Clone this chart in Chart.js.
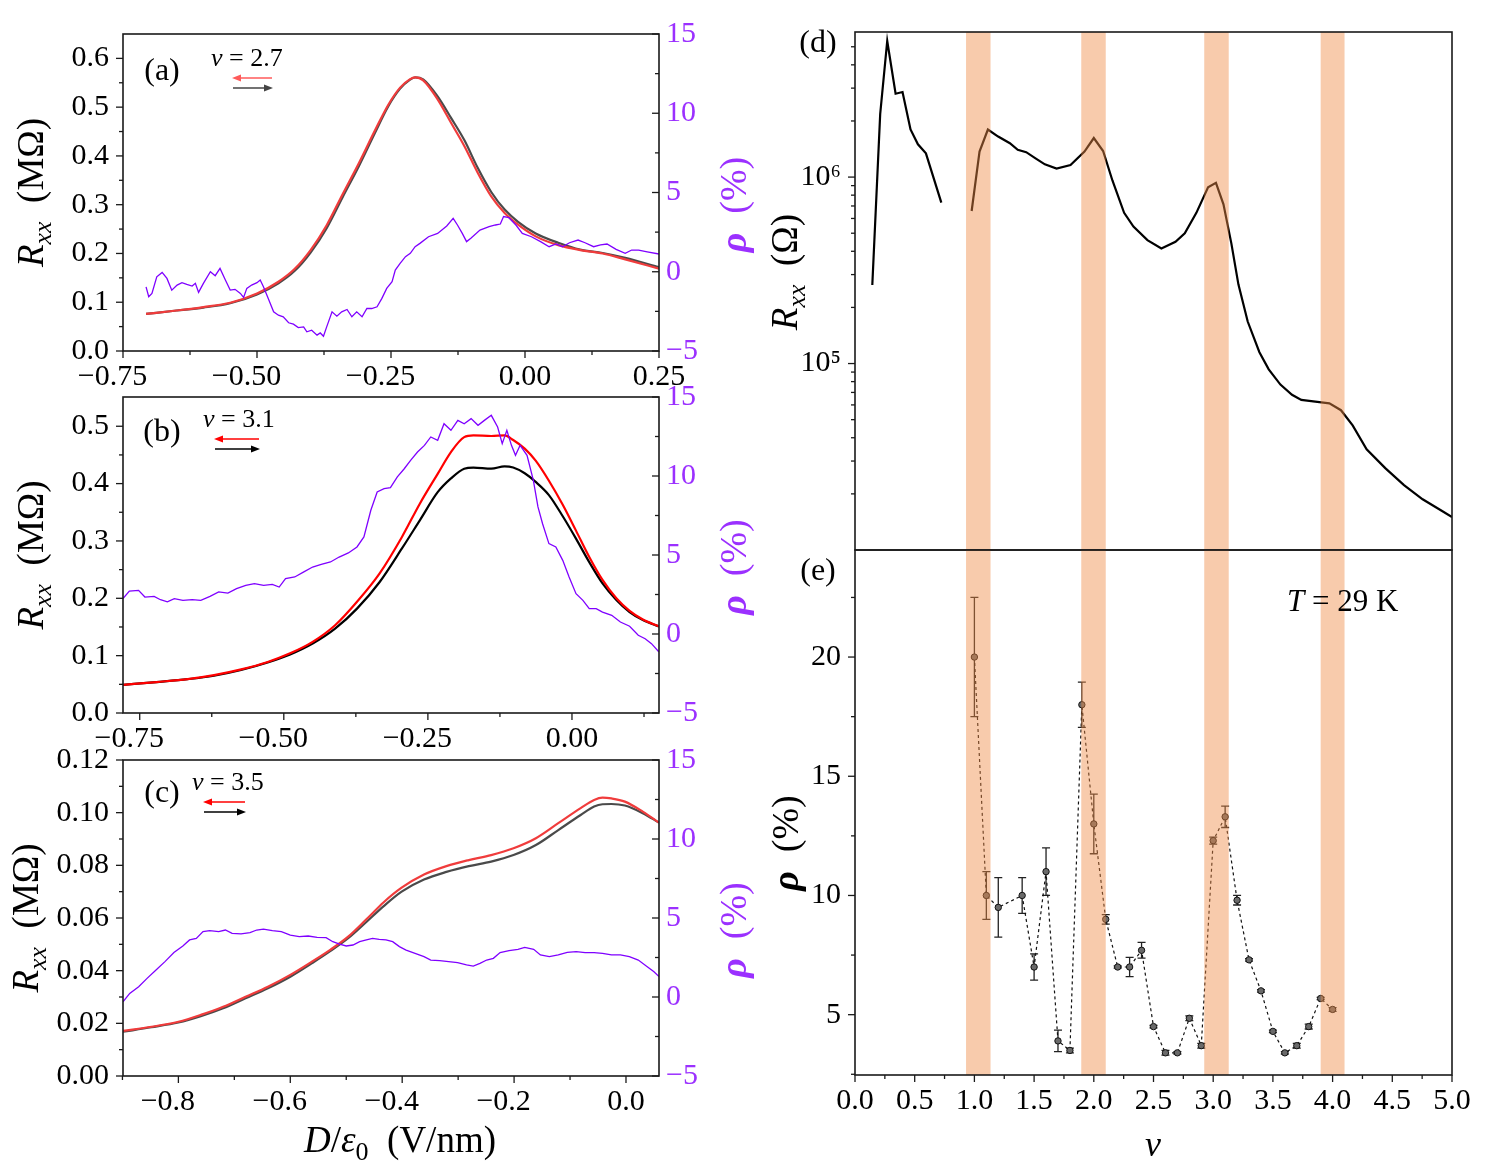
<!DOCTYPE html>
<html>
<head>
<meta charset="utf-8">
<script src="https://cdn.jsdelivr.net/npm/chart.js@4.4.0/dist/chart.umd.min.js"></script>
<style>
  body { margin: 0; background: #fff; }
  #wrap { position: relative; width: 1492px; height: 1172px; }
  canvas { position: absolute; left: 0; top: 0; }
</style>
</head>
<body>
<div id="wrap">
  <canvas id="ca" width="1492" height="1172"></canvas>
  <canvas id="cb" width="1492" height="1172"></canvas>
  <canvas id="cc" width="1492" height="1172"></canvas>
  <canvas id="cd" width="1492" height="1172"></canvas>
  <canvas id="ce" width="1492" height="1172"></canvas>
</div>
<script>
/** Data start */

// (a) v = 2.7
const aX = [-0.707,-0.65,-0.60,-0.55,-0.50,-0.46,-0.43,-0.40,-0.37,-0.34,-0.31,-0.28,-0.255,-0.233,-0.215,-0.205,-0.19,-0.163,-0.138,-0.113,-0.088,-0.063,-0.038,-0.013,0.020,0.062,0.103,0.145,0.187,0.25];
const aRed = [0.076,0.083,0.090,0.099,0.118,0.142,0.168,0.207,0.258,0.322,0.385,0.452,0.505,0.540,0.557,0.561,0.555,0.516,0.468,0.420,0.365,0.317,0.283,0.259,0.235,0.217,0.207,0.200,0.188,0.169];
const aBlack = [0.076,0.083,0.089,0.098,0.116,0.139,0.164,0.202,0.252,0.316,0.379,0.447,0.502,0.538,0.556,0.561,0.557,0.522,0.478,0.432,0.375,0.326,0.290,0.265,0.241,0.222,0.208,0.201,0.191,0.172];
const aRhoX = [-0.707,-0.702,-0.696,-0.687,-0.677,-0.668,-0.659,-0.649,-0.640,-0.631,-0.621,-0.615,-0.609,-0.600,-0.587,-0.578,-0.569,-0.559,-0.550,-0.541,-0.531,-0.525,-0.519,-0.510,-0.500,-0.494,-0.488,-0.479,-0.469,-0.460,-0.451,-0.441,-0.432,-0.423,-0.413,-0.407,-0.398,-0.388,-0.382,-0.376,-0.370,-0.360,-0.351,-0.342,-0.332,-0.323,-0.314,-0.304,-0.295,-0.286,-0.276,-0.267,-0.258,-0.248,-0.242,-0.233,-0.223,-0.214,-0.205,-0.196,-0.180,-0.163,-0.146,-0.134,-0.126,-0.117,-0.109,-0.101,-0.084,-0.067,-0.055,-0.046,-0.040,-0.030,-0.017,-0.005,0.012,0.029,0.045,0.058,0.070,0.083,0.099,0.112,0.128,0.141,0.153,0.170,0.187,0.199,0.212,0.228,0.25];
const aRho = [-0.95,-1.58,-1.37,-0.32,-0.04,-0.42,-1.16,-0.84,-0.69,-0.80,-0.90,-0.73,-1.30,-0.73,0.0,-0.25,0.21,-0.52,-1.16,-1.11,-1.37,-1.62,-1.05,-0.84,-0.69,-0.52,-0.95,-1.68,-2.53,-2.74,-2.84,-3.22,-3.31,-3.52,-3.48,-3.79,-3.69,-4.00,-3.86,-4.07,-3.48,-2.53,-2.80,-2.53,-2.38,-2.84,-2.53,-2.84,-2.32,-2.32,-2.21,-1.68,-1.05,-0.63,0.11,0.53,0.95,1.16,1.58,1.79,2.21,2.42,2.89,3.37,2.95,2.42,1.90,2.11,2.63,2.85,2.95,3.01,3.48,3.41,2.95,2.42,2.21,1.90,1.58,1.75,1.58,1.83,2.00,1.83,1.58,1.69,1.75,1.41,1.16,1.37,1.37,1.26,1.12];

// (b) v = 3.1
const bX = [-0.779,-0.721,-0.667,-0.621,-0.574,-0.528,-0.489,-0.450,-0.411,-0.373,-0.334,-0.295,-0.264,-0.233,-0.210,-0.187,-0.171,-0.140,-0.117,-0.102,-0.082,-0.063,-0.040,-0.016,0.007,0.030,0.053,0.077,0.100,0.123,0.151];
const bRed = [0.049,0.054,0.059,0.066,0.076,0.089,0.104,0.124,0.153,0.194,0.243,0.307,0.365,0.417,0.455,0.481,0.484,0.483,0.484,0.476,0.461,0.440,0.405,0.363,0.318,0.272,0.232,0.200,0.178,0.163,0.151];
const bBlack = [0.049,0.054,0.059,0.065,0.075,0.088,0.102,0.121,0.147,0.182,0.228,0.287,0.336,0.385,0.409,0.426,0.428,0.426,0.430,0.428,0.418,0.403,0.380,0.343,0.304,0.263,0.226,0.197,0.176,0.162,0.151];
const bRhoX = [-0.779,-0.768,-0.752,-0.741,-0.725,-0.714,-0.702,-0.690,-0.675,-0.659,-0.644,-0.628,-0.613,-0.597,-0.582,-0.566,-0.551,-0.535,-0.520,-0.508,-0.497,-0.481,-0.466,-0.450,-0.435,-0.419,-0.404,-0.388,-0.373,-0.361,-0.349,-0.338,-0.326,-0.315,-0.303,-0.291,-0.280,-0.268,-0.256,-0.245,-0.233,-0.222,-0.210,-0.198,-0.187,-0.175,-0.163,-0.152,-0.140,-0.129,-0.121,-0.113,-0.105,-0.098,-0.090,-0.078,-0.067,-0.059,-0.051,-0.040,-0.028,-0.016,-0.005,0.007,0.019,0.030,0.042,0.053,0.069,0.084,0.100,0.115,0.127,0.138,0.151];
const bRho = [2.24,2.72,2.76,2.34,2.38,2.17,2.03,2.24,2.13,2.17,2.13,2.38,2.66,2.59,2.87,3.08,3.19,3.08,3.14,2.97,3.50,3.61,3.92,4.24,4.41,4.56,4.87,5.13,5.51,6.14,7.83,8.99,9.20,9.26,9.94,10.46,10.99,11.52,11.94,12.47,12.26,13.31,12.89,13.52,13.31,13.63,13.21,13.52,13.84,13.10,12.05,12.89,11.94,11.31,11.94,11.31,9.73,8.04,6.98,5.72,5.51,4.66,3.61,2.55,2.13,1.60,1.60,1.39,1.18,0.76,0.49,-0.08,-0.30,-0.61,-1.14];

// (c) v = 3.5
const cX = [-0.899,-0.848,-0.800,-0.760,-0.720,-0.680,-0.640,-0.600,-0.560,-0.528,-0.496,-0.464,-0.433,-0.401,-0.361,-0.321,-0.281,-0.241,-0.201,-0.161,-0.121,-0.081,-0.057,-0.042,-0.026,-0.002,0.030,0.059];
const cRed = [0.0171,0.0187,0.0206,0.0232,0.0263,0.0301,0.0339,0.0384,0.0436,0.0480,0.0530,0.0595,0.0660,0.0715,0.0765,0.0797,0.0820,0.0839,0.0865,0.0903,0.0960,0.1017,0.1048,0.1057,0.1054,0.1042,0.1004,0.0962];
const cBlack = [0.0168,0.0185,0.0203,0.0227,0.0257,0.0295,0.0333,0.0377,0.0430,0.0475,0.0524,0.0585,0.0645,0.0700,0.0746,0.0775,0.0797,0.0814,0.0839,0.0877,0.0934,0.0991,0.1023,0.1032,0.1033,0.1027,0.0998,0.0962];
const cRhoX = [-0.899,-0.887,-0.871,-0.856,-0.840,-0.824,-0.808,-0.792,-0.780,-0.768,-0.756,-0.744,-0.728,-0.716,-0.704,-0.688,-0.672,-0.660,-0.648,-0.632,-0.616,-0.600,-0.584,-0.568,-0.552,-0.536,-0.524,-0.512,-0.500,-0.488,-0.476,-0.464,-0.453,-0.441,-0.429,-0.417,-0.405,-0.393,-0.377,-0.361,-0.349,-0.333,-0.317,-0.301,-0.285,-0.273,-0.261,-0.249,-0.237,-0.225,-0.209,-0.193,-0.181,-0.165,-0.153,-0.137,-0.121,-0.105,-0.089,-0.073,-0.057,-0.042,-0.026,-0.010,0.006,0.022,0.038,0.050,0.059];
const cRho = [-0.30,0.23,0.65,1.18,1.71,2.24,2.81,3.23,3.61,3.71,4.14,4.20,4.14,4.24,4.03,3.99,4.07,4.24,4.30,4.20,4.14,3.92,3.82,3.86,3.78,3.76,3.50,3.35,3.23,3.29,3.50,3.61,3.71,3.65,3.61,3.50,3.19,2.97,2.76,2.55,2.34,2.30,2.24,2.17,2.03,1.96,2.13,2.34,2.45,2.81,2.93,3.02,3.14,3.02,2.66,2.55,2.66,2.83,2.87,2.81,2.81,2.76,2.66,2.66,2.55,2.34,1.92,1.60,1.29];

// (d) Rxx vs filling, log scale (null = gap)
const dX = [0.145,0.211,0.270,0.340,0.398,0.465,0.527,0.594,0.723,0.85,0.977,1.043,1.113,1.199,1.297,1.363,1.434,1.512,1.590,1.688,1.805,1.922,2.000,2.078,2.156,2.254,2.332,2.449,2.566,2.684,2.762,2.859,2.957,3.023,3.086,3.152,3.211,3.289,3.387,3.465,3.563,3.660,3.738,3.855,3.973,4.070,4.168,4.285,4.441,4.598,4.754,4.910,5.000];
const dR = [2.64e5,2.18e6,5.37e6,2.80e6,2.86e6,1.80e6,1.50e6,1.34e6,7.29e5,null,6.58e5,1.37e6,1.80e6,1.65e6,1.52e6,1.40e6,1.36e6,1.26e6,1.17e6,1.11e6,1.16e6,1.37e6,1.62e6,1.38e6,9.59e5,6.43e5,5.43e5,4.59e5,4.14e5,4.50e5,5.00e5,6.43e5,8.81e5,9.31e5,7.14e5,4.41e5,2.66e5,1.68e5,1.15e5,9.31e4,7.71e4,6.80e4,6.38e4,6.25e4,6.12e4,5.62e4,4.66e4,3.47e4,2.75e4,2.23e4,1.87e4,1.63e4,1.50e4];

// (e) rho vs filling, with error bars
const eX = [1.0,1.1,1.2,1.4,1.5,1.6,1.7,1.8,1.9,2.0,2.1,2.2,2.3,2.4,2.5,2.6,2.7,2.8,2.9,3.0,3.1,3.2,3.3,3.4,3.5,3.6,3.7,3.8,3.9,4.0];
const eRho = [20.0,10.0,9.5,10.0,7.0,11.0,3.9,3.5,18.0,13.0,9.0,7.0,7.0,7.7,4.5,3.4,3.4,4.85,3.7,12.3,13.3,9.8,7.3,6.0,4.3,3.4,3.7,4.5,5.68,5.22];
const eErr = [2.5,1.0,1.25,0.75,0.55,1.0,0.45,0.1,0.95,1.25,0.2,0.05,0.4,0.33,0.05,0.1,0.05,0.1,0.1,0.15,0.45,0.2,0.05,0.05,0.05,0.05,0.1,0.1,0.05,0.08];

// shaded integer-filling bands
const bandLo = [0.93, 1.895, 2.925, 3.9];
const bandHi = [1.135, 2.1, 3.13, 4.1];

// tick labels
const aXTicks = [-0.75, -0.5, -0.25, 0, 0.25];
const bXTicks = [-0.75, -0.5, -0.25, 0];
const cXTicks = [-0.8, -0.6, -0.4, -0.2, 0];
const aYTicks = [0, 0.1, 0.2, 0.3, 0.4, 0.5, 0.6];
const bYTicks = [0, 0.1, 0.2, 0.3, 0.4, 0.5];
const cYTicks = [0, 0.02, 0.04, 0.06, 0.08, 0.10, 0.12];
const rhoTicks = [-5, 0, 5, 10, 15];
const dYTicks = [1e5, 1e6];
const eXTicks = [0, 0.5, 1, 1.5, 2, 2.5, 3, 3.5, 4, 4.5, 5];
const eYTicks = [5, 10, 15, 20];

/** Data end */

const FONT = '"Liberation Serif", "Times New Roman", serif';
const PURPLE = '#7f00ff';
const PURPLE_TXT = '#9b30ff';
const BAND = 'rgba(240,140,70,0.45)';
const FRAME = '#1a1a1a';
const W = 1492, H = 1172, WL = 110, WR = 50, HB = 50;
const TITLE = 37, RHO_PX = 38;

Chart.defaults.font.family = FONT;
Chart.defaults.font.size = 30;
Chart.defaults.color = '#000';
Chart.defaults.animation = false;
Chart.defaults.responsive = false;
Chart.defaults.events = [];
Chart.defaults.plugins.legend.display = false;
Chart.defaults.plugins.tooltip.enabled = false;

function range(lo, hi, step) {
  const out = [];
  for (let v = lo; v <= hi + 1e-9; v += step) out.push(+v.toFixed(6));
  return out;
}

function num(v, dec) {
  return (Math.abs(v) < 1e-9 ? 0 : v).toFixed(dec).replace('-', '\u2212');
}
// minus sign hangs left of the tick in the original, so pad on the right
function xfmt(v, dec) {
  return v < -1e-9 ? num(v, dec) + '\u2002\u2009' : num(v, dec);
}

function padFor(area, right, bottom) {
  return {
    left: area.l - WL, top: area.t,
    right: W - area.r - (right ? WR : 0),
    bottom: H - area.b - (bottom ? HB : 0)
  };
}

function pts(xs, ys) {
  return xs.map((x, i) => ({ x: x, y: ys[i] }));
}

function line(xs, ys, color, width, axis, extra) {
  return Object.assign({
    data: pts(xs, ys), borderColor: color, borderWidth: width,
    pointRadius: 0, yAxisID: axis, fill: false, tension: 0
  }, extra || {});
}

function xAxis(min, max, ticks, dec, show) {
  const on = show !== false;
  return {
    type: 'linear', min: min, max: max, display: on,
    grid: { display: false, drawTicks: false }, border: { display: false },
    afterBuildTicks: s => { s.ticks = ticks.map(v => ({ value: v })); },
    afterFit: s => { s.height = on ? HB : 0; },
    ticks: { padding: 8, maxRotation: 0, autoSkip: false, callback: v => xfmt(v, dec) }
  };
}

function yAxis(pos, min, max, ticks, dec, color) {
  return {
    type: 'linear', position: pos, min: min, max: max,
    grid: { display: false, drawTicks: false }, border: { display: false },
    afterBuildTicks: s => { s.ticks = ticks.map(v => ({ value: v })); },
    afterFit: s => { s.width = pos === 'left' ? WL : WR; },
    ticks: { padding: pos === 'left' ? 14 : 7, color: color || '#000', autoSkip: false, callback: v => num(v, dec) }
  };
}

// text with italic / bold / subscript runs
function rich(ctx, parts, x, y, size, o) {
  o = o || {};
  const font = f => (f.includes('i') ? 'italic ' : '') + (f.includes('b') ? 'bold ' : '') +
    (f.includes('s') ? Math.round(size * 0.7) : size) + 'px ' + FONT;
  ctx.save();
  ctx.translate(x, y);
  if (o.rot) ctx.rotate(o.rot);
  ctx.fillStyle = o.color || '#000';
  ctx.textBaseline = 'alphabetic';
  let w = 0;
  parts.forEach(p => { ctx.font = font(p[1] || ''); w += ctx.measureText(p[0]).width; });
  let cx = o.left ? 0 : -w / 2;
  parts.forEach(p => {
    const f = p[1] || '';
    ctx.font = font(f);
    ctx.fillText(p[0], cx, f.includes('s') ? size * 0.22 : 0);
    cx += ctx.measureText(p[0]).width;
  });
  ctx.restore();
}

function arrow(ctx, x0, x1, y, color) {
  const dir = Math.sign(x1 - x0);
  ctx.save();
  ctx.strokeStyle = color; ctx.fillStyle = color; ctx.lineWidth = 1.6;
  ctx.beginPath(); ctx.moveTo(x0, y); ctx.lineTo(x1 - dir * 6, y); ctx.stroke();
  ctx.beginPath(); ctx.moveTo(x1, y); ctx.lineTo(x1 - dir * 9, y - 3.5); ctx.lineTo(x1 - dir * 9, y + 3.5);
  ctx.closePath(); ctx.fill();
  ctx.restore();
}

// major ticks from the scale, minor ticks from lists; left/bottom out, right in
function drawTicks(chart, minor) {
  const ctx = chart.ctx, a = chart.chartArea;
  ctx.save();
  ctx.strokeStyle = FRAME; ctx.lineWidth = 1.3;
  Object.keys(minor).forEach(id => {
    const sc = chart.scales[id];
    const mark = (vals, len) => vals.forEach(v => {
      const p = sc.getPixelForValue(v);
      ctx.beginPath();
      if (sc.isHorizontal()) { ctx.moveTo(p, a.bottom); ctx.lineTo(p, a.bottom + len); }
      else if (sc.position === 'left') { ctx.moveTo(a.left, p); ctx.lineTo(a.left - len, p); }
      else { ctx.moveTo(a.right, p); ctx.lineTo(a.right - len, p); }
      ctx.stroke();
    });
    mark(sc.ticks.map(t => t.value), 7);
    mark(minor[id], 4);
  });
  ctx.restore();
}

function deco(o) {
  return {
    id: 'deco',
    beforeDatasetsDraw(chart) { if (o.errors) o.errors(chart); },
    afterDatasetsDraw(chart) {
      const ctx = chart.ctx, a = chart.chartArea;
      if (o.bands) {
        const sx = chart.scales.x;
        ctx.save();
        ctx.fillStyle = BAND;
        bandLo.forEach((lo, i) => {
          const x0 = sx.getPixelForValue(lo), x1 = sx.getPixelForValue(bandHi[i]);
          ctx.fillRect(x0, a.top, x1 - x0, a.bottom - a.top);
        });
        ctx.restore();
      }
      drawTicks(chart, o.minor);
      ctx.save();
      ctx.strokeStyle = FRAME; ctx.lineWidth = 1.6;
      ctx.strokeRect(a.left, a.top, a.right - a.left, a.bottom - a.top);
      ctx.restore();
      if (o.text) o.text(ctx);
    }
  };
}

const rhoMinor = [-2.5, 2.5, 7.5, 12.5];
const RXX = [['R', 'i'], ['xx', 'is'], ['  (M\u03a9)']];
const RHO = [['\u03c1', 'bi'], ['  (%)']];
const ROT = -Math.PI / 2;

function leftPanel(id, area, p) {
  return new Chart(document.getElementById(id), {
    type: 'line',
    data: {
      datasets: [
        line(p.rhoX, p.rho, PURPLE, 1.3, 'y1'),
        line(p.x, p.red, p.redColor, 2.2, 'y', { cubicInterpolationMode: 'monotone' }),
        line(p.x, p.black, p.blackColor, 2.2, 'y', { cubicInterpolationMode: 'monotone' })
      ]
    },
    options: {
      layout: { padding: padFor(area, true, true) },
      scales: {
        x: xAxis(p.xMin, p.xMax, p.xTicks, p.xDec),
        y: yAxis('left', 0, p.yMax, p.yTicks, p.yDec),
        y1: yAxis('right', -5, 15, rhoTicks, 0, PURPLE_TXT)
      }
    },
    plugins: [deco({
      minor: { x: p.xMinor, y: p.yMinor, y1: rhoMinor },
      text: ctx => {
        const cy = (area.t + area.b) / 2;
        rich(ctx, [[p.tag]], area.l + 39, p.tagY, 32);
        rich(ctx, [['v', 'i'], [' = ' + p.nu]], p.lx, p.ly, 26, { left: true });
        arrow(ctx, p.ax1, p.ax0, p.ly + 12, p.arrowRed);
        arrow(ctx, p.ax0 + 1, p.ax1 + 1, p.ly + 22, p.arrowBlack);
        rich(ctx, RXX, p.titleX, cy, TITLE, { rot: ROT });
        rich(ctx, RHO, 746, cy + 12, RHO_PX, { rot: ROT, color: PURPLE_TXT });
        if (p.xTitle) rich(ctx, [['D', 'i'], ['/'], ['\u03b5', 'i'], ['0', 's'], ['  (V/nm)']], 400, 1152, TITLE);
      }
    })]
  });
}

leftPanel('ca', { l: 123, t: 34, r: 659, b: 351 }, {
  x: aX, red: aRed, black: aBlack, rhoX: aRhoX, rho: aRho,
  redColor: '#f03c3c', blackColor: '#4a4a4a',
  xMin: -0.75, xMax: 0.25, xTicks: aXTicks, xDec: 2, xMinor: [-0.625, -0.375, -0.125, 0.125],
  yMax: 0.65, yTicks: aYTicks, yDec: 1, yMinor: range(0.05, 0.55, 0.1),
  tag: '(a)', tagY: 80, nu: '2.7', lx: 211, ly: 66, ax0: 232, ax1: 272,
  arrowRed: '#ff5a5a', arrowBlack: '#444', titleX: 43
});

leftPanel('cb', { l: 123, t: 397, r: 659, b: 713 }, {
  x: bX, red: bRed, black: bBlack, rhoX: bRhoX, rho: bRho,
  redColor: '#ff0000', blackColor: '#000000',
  xMin: -0.779, xMax: 0.151, xTicks: bXTicks, xDec: 2, xMinor: [-0.625, -0.375, -0.125, 0.125],
  yMax: 0.551, yTicks: bYTicks, yDec: 1, yMinor: range(0.05, 0.45, 0.1),
  tag: '(b)', tagY: 441, nu: '3.1', lx: 203, ly: 427, ax0: 214, ax1: 259,
  arrowRed: '#ff0000', arrowBlack: '#000', titleX: 43
});

leftPanel('cc', { l: 123, t: 760, r: 659, b: 1076 }, {
  x: cX, red: cRed, black: cBlack, rhoX: cRhoX, rho: cRho,
  redColor: '#f03c3c', blackColor: '#4a4a4a',
  xMin: -0.899, xMax: 0.059, xTicks: cXTicks, xDec: 1, xMinor: [-0.9, -0.7, -0.5, -0.3, -0.1],
  yMax: 0.12, yTicks: cYTicks, yDec: 2, yMinor: range(0.01, 0.11, 0.02),
  tag: '(c)', tagY: 802, nu: '3.5', lx: 192, ly: 790, ax0: 203, ax1: 245,
  arrowRed: '#ff0000', arrowBlack: '#000', titleX: 38, xTitle: true
});

// (d) log-scale resistance
const sup = { 4: '\u2074', 5: '\u2075', 6: '\u2076' };
const dArea = { l: 855, t: 26, r: 1452, b: 550 };
new Chart(document.getElementById('cd'), {
  type: 'line',
  data: {
    datasets: [line(dX, dR, '#000', 2.2, 'y', { spanGaps: false })]
  },
  options: {
    layout: { padding: padFor(dArea, false, false) },
    scales: {
      x: xAxis(0, 5, eXTicks, 1, false),
      y: {
        type: 'logarithmic', position: 'left', min: 1e4, max: 6e6,
        grid: { display: false, drawTicks: false }, border: { display: false },
        afterBuildTicks: s => { s.ticks = dYTicks.map(v => ({ value: v })); },
        afterFit: s => { s.width = WL; },
        ticks: { padding: 14, autoSkip: false, callback: v => '10' + sup[Math.round(Math.log10(v))] }
      }
    }
  },
  plugins: [deco({
    bands: true,
    minor: { y: [2e4, 3e4, 4e4, 5e4, 6e4, 7e4, 8e4, 9e4, 2e5, 3e5, 4e5, 5e5, 6e5, 7e5, 8e5, 9e5, 2e6, 3e6, 4e6, 5e6] },
    text: ctx => {
      rich(ctx, [['(d)']], 818, 52, 32);
      rich(ctx, [['R', 'i'], ['xx', 'is'], ['  (\u03a9)']], 797, 272, TITLE, { rot: ROT });
    }
  })]
});

// (e) rho with error bars
const eArea = { l: 855, t: 550, r: 1452, b: 1075 };
new Chart(document.getElementById('ce'), {
  type: 'line',
  data: {
    datasets: [{
      data: pts(eX, eRho), borderColor: '#111', borderWidth: 1.2, borderDash: [3, 3],
      pointRadius: 3.2, pointBackgroundColor: '#6a6a6a', pointBorderColor: '#111', pointBorderWidth: 1,
      fill: false, tension: 0
    }]
  },
  options: {
    layout: { padding: padFor(eArea, false, true) },
    scales: {
      x: xAxis(0, 5, eXTicks, 1),
      y: yAxis('left', 2.47, 24.49, eYTicks, 0)
    }
  },
  plugins: [deco({
    bands: true,
    minor: { x: range(0.25, 4.75, 0.5), y: [2.5, 7.5, 12.5, 17.5, 22.5] },
    errors: chart => {
      const ctx = chart.ctx, sx = chart.scales.x, sy = chart.scales.y;
      ctx.save();
      ctx.strokeStyle = '#222'; ctx.lineWidth = 1.3;
      eX.forEach((x, i) => {
        const px = sx.getPixelForValue(x);
        const y0 = sy.getPixelForValue(eRho[i] - eErr[i]), y1 = sy.getPixelForValue(eRho[i] + eErr[i]);
        ctx.beginPath();
        ctx.moveTo(px, y0); ctx.lineTo(px, y1);
        ctx.moveTo(px - 4, y0); ctx.lineTo(px + 4, y0);
        ctx.moveTo(px - 4, y1); ctx.lineTo(px + 4, y1);
        ctx.stroke();
      });
      ctx.restore();
    },
    text: ctx => {
      rich(ctx, [['(e)']], 818, 580, 32);
      rich(ctx, RHO, 798, 843, RHO_PX, { rot: ROT });
      rich(ctx, [['T', 'i'], [' = 29 K']], 1287, 611, 31, { left: true });
      rich(ctx, [['v', 'i']], 1153, 1156, 36);
    }
  })]
});
</script>
</body>
</html>
